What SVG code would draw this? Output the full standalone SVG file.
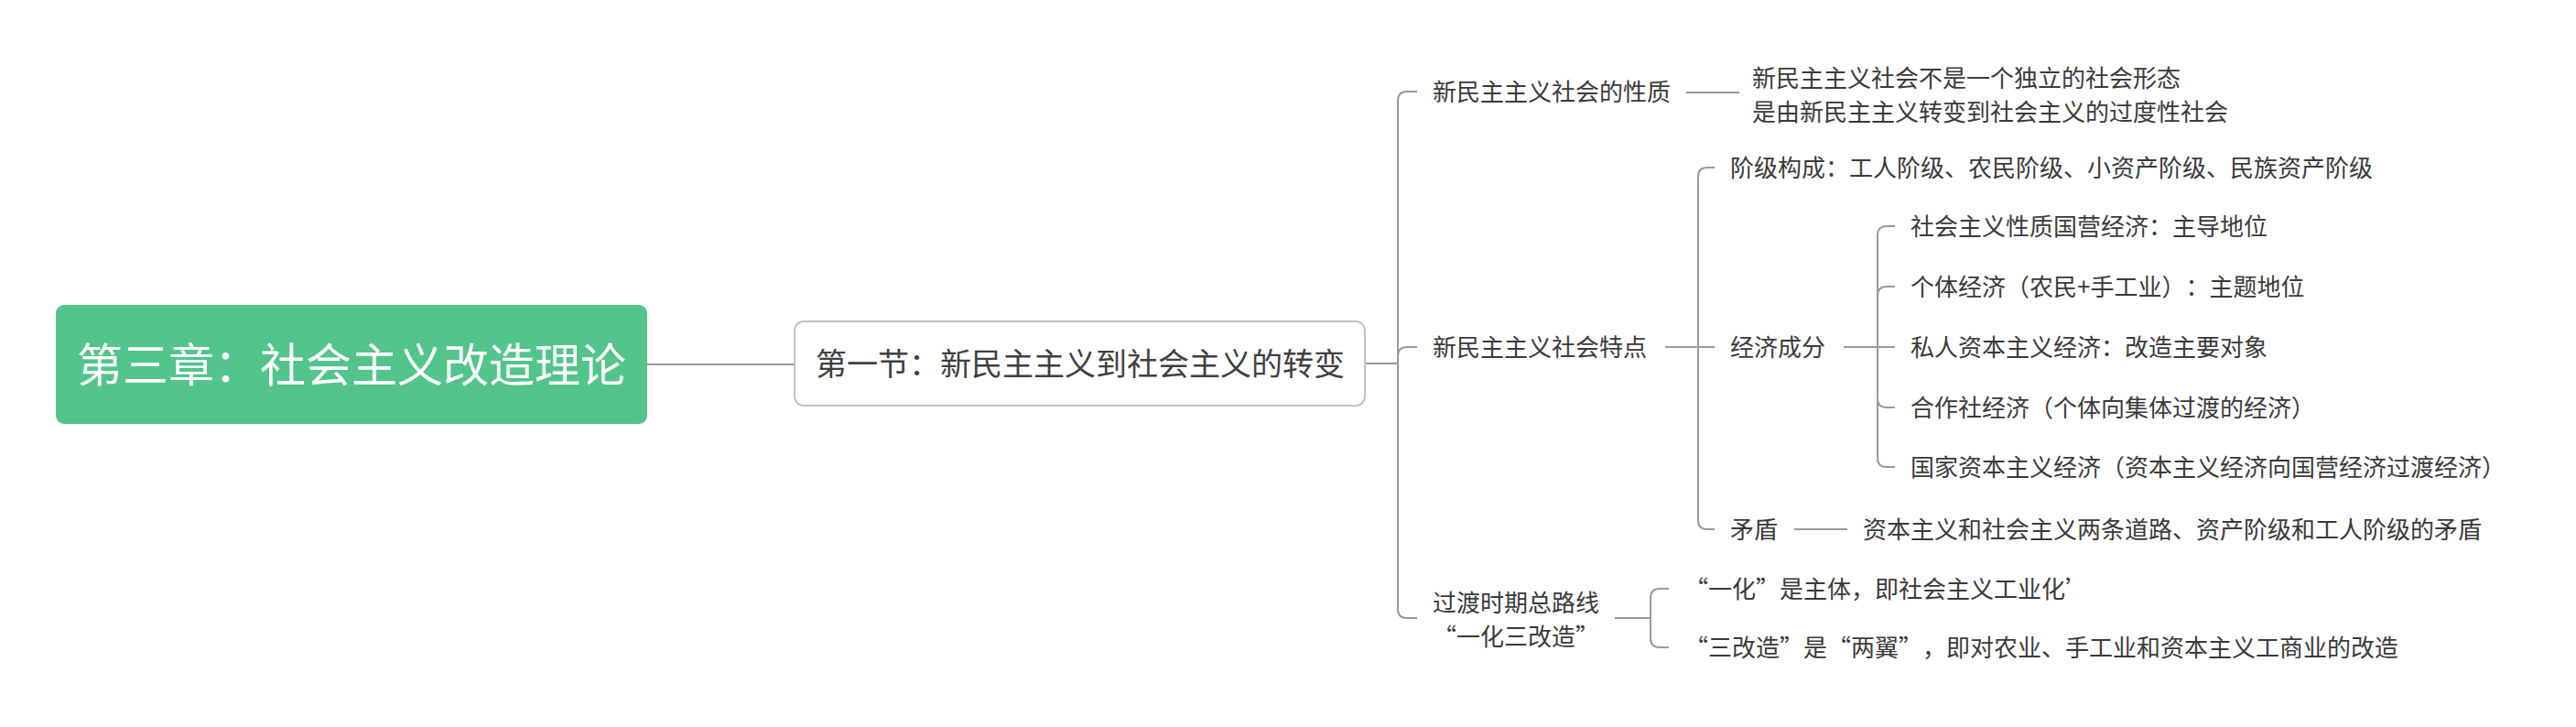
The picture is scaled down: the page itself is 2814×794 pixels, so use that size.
<svg xmlns="http://www.w3.org/2000/svg" width="2814" height="794" viewBox="0 0 2814 794">
<style>
text{font-family:"Noto Sans CJK SC","Noto Sans",sans-serif;fill:#3a3a3a;font-size:26px;text-spacing-trim:space-all;font-feature-settings:"halt" 0,"chws" 0}
.root{fill:#ffffff;font-size:50px}
.sec{font-size:34px;fill:#404040}
.ln{fill:none;stroke:#9a9a9a;stroke-width:2}
</style>
<rect width="2814" height="794" fill="#ffffff"/>
<g id="connectors">
<path class="ln" d="M707,398 H868"/>
<path class="ln" d="M1491,397 H1527 V110 Q1527,100 1537,100 H1548"/>
<path class="ln" d="M1527,397 V389 Q1527,379 1537,379 H1548"/>
<path class="ln" d="M1527,397 V665 Q1527,675 1537,675 H1548"/>
<path class="ln" d="M1842,101 H1900"/>
<path class="ln" d="M1819,379 H1873"/>
<path class="ln" d="M1855,379 V193 Q1855,183 1865,183 H1873"/>
<path class="ln" d="M1855,379 V568 Q1855,578 1865,578 H1873"/>
<path class="ln" d="M1960,578 H2018"/>
<path class="ln" d="M2014,379 H2070"/>
<path class="ln" d="M2051,379 V257 Q2051,247 2061,247 H2070"/>
<path class="ln" d="M2051,379 V323 Q2051,313 2061,313 H2070"/>
<path class="ln" d="M2051,379 V435 Q2051,445 2061,445 H2070"/>
<path class="ln" d="M2051,379 V500 Q2051,510 2061,510 H2070"/>
<path class="ln" d="M1764,675 H1803"/>
<path class="ln" d="M1803,675 V653 Q1803,643 1813,643 H1823"/>
<path class="ln" d="M1803,675 V697 Q1803,707 1813,707 H1823"/>
</g>
<g id="root">
<rect x="61" y="333" width="646" height="130" rx="9" fill="#52c48c"/>
<text class="root" x="384" y="417" text-anchor="middle">第三章：社会主义改造理论</text>
</g>
<g id="section1">
<rect x="868" y="351" width="623" height="92" rx="10" fill="#ffffff" stroke="#c2c2c2" stroke-width="2"/>
<text class="sec" x="1180" y="410" text-anchor="middle">第一节：新民主主义到社会主义的转变</text>
</g>
<g id="nature">
<text x="1565" y="110">新民主主义社会的性质</text>
</g>
<g id="nature-desc">
<text x="1914" y="95">新民主主义社会不是一个独立的社会形态</text>
<text x="1914" y="132">是由新民主主义转变到社会主义的过度性社会</text>
</g>
<g id="features">
<text x="1565" y="389">新民主主义社会特点</text>
</g>
<g id="class">
<text x="1890" y="193">阶级构成：工人阶级、农民阶级、小资产阶级、民族资产阶级</text>
</g>
<g id="economy">
<text x="1890" y="389">经济成分</text>
</g>
<g id="eco1"><text x="2087" y="257">社会主义性质国营经济：主导地位</text></g>
<g id="eco2"><text x="2087" y="323">个体经济（农民+手工业）：主题地位</text></g>
<g id="eco3"><text x="2087" y="389">私人资本主义经济：改造主要对象</text></g>
<g id="eco4"><text x="2087" y="455">合作社经济（个体向集体过渡的经济）</text></g>
<g id="eco5"><text x="2087" y="520">国家资本主义经济（资本主义经济向国营经济过渡经济）</text></g>
<g id="conflict">
<text x="1890" y="588">矛盾</text>
</g>
<g id="conflict-desc">
<text x="2035" y="588">资本主义和社会主义两条道路、资产阶级和工人阶级的矛盾</text>
</g>
<g id="route">
<text x="1656" y="668" text-anchor="middle">过渡时期总路线</text>
<text x="1656" y="705" text-anchor="middle">“一化三改造”</text>
</g>
<g id="route1"><text x="1840" y="653">“一化”是主体，即社会主义工业化’</text></g>
<g id="route2"><text x="1840" y="717">“三改造”是“两翼”，即对农业、手工业和资本主义工商业的改造</text></g>
</svg>
